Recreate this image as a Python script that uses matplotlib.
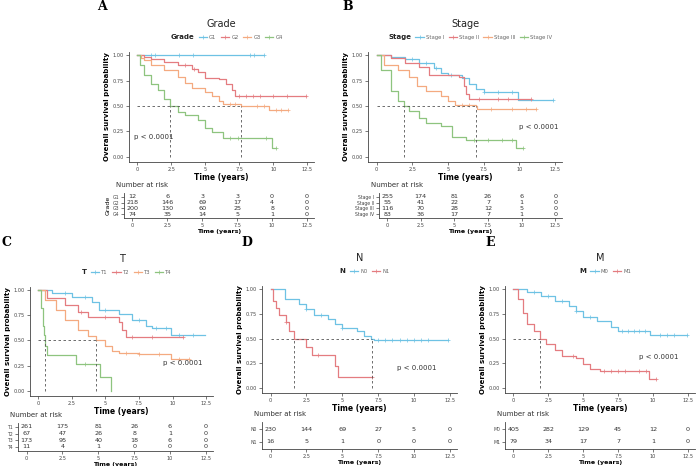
import matplotlib
matplotlib.use("Agg")
import matplotlib.pyplot as plt
import numpy as np
from matplotlib.lines import Line2D

W, H = 700, 466
fig = plt.figure(figsize=(7, 4.66), dpi=100)
BLUE, RED, ORANGE, GREEN = "#6EC2E4", "#E47C80", "#F4AA80", "#8EC47F"
COLS = [BLUE, RED, ORANGE, GREEN]

# ---------------- data ----------------
grade_names = ["G1", "G2", "G3", "G4"]
grade_t = [[0, 9.3],
           [0, 0.5, 1, 2, 3, 4, 4.5, 5, 6, 6.5, 7, 7.2, 12.4],
           [0, 0.3, 0.5, 1, 2, 3, 3.5, 4, 5, 5.5, 6, 6.3, 7.6, 9.7, 11.1],
           [0, 0.2, 0.5, 1, 1.5, 2, 2.4, 3, 3.5, 4.5, 5, 5.5, 6.3, 9.9, 10.2]]
grade_s = [[1, 1],
           [1, 0.98, 0.96, 0.93, 0.9, 0.86, 0.83, 0.77, 0.76, 0.72, 0.66, 0.6, 0.6],
           [1, 0.97, 0.95, 0.9, 0.85, 0.78, 0.73, 0.68, 0.64, 0.6, 0.55, 0.52, 0.5, 0.46, 0.46],
           [1, 0.9, 0.8, 0.72, 0.66, 0.57, 0.5, 0.44, 0.41, 0.36, 0.28, 0.24, 0.19, 0.09, 0.09]]
grade_cens = [[1, 1.3, 3.1, 4.1, 8.3, 8.6, 9.3], [3.5, 4.2, 7.5, 8, 8.5, 9, 10, 11, 12.4],
              [6.8, 7.2, 8.8, 9.3, 10.2, 10.6, 11.1], [6.8, 7.4, 9.5, 10.2]]
grade_risk = [[12, 6, 3, 3, 0, 0], [218, 146, 69, 17, 4, 0], [200, 130, 60, 25, 8, 0], [74, 35, 14, 5, 1, 0]]
grade_med = [2.4, 7.6]

stage_names = ["Stage I", "Stage II", "Stage III", "Stage IV"]
stage_t = [[0, 1, 2, 3, 4, 4.5, 5, 6, 6.5, 7, 7.5, 9.9, 12.4],
           [0, 1, 2, 3, 3.7, 5.8, 6.1, 6.3, 6.5, 10.8],
           [0, 0.5, 1.5, 2.3, 2.8, 3.5, 4.5, 5, 5.5, 7.0, 7.05, 11.2],
           [0, 0.3, 1, 1.5, 1.9, 2.3, 3, 3.5, 4.5, 5.3, 6.3, 9.8, 10.3]]
stage_s = [[1, 0.98, 0.96, 0.92, 0.87, 0.82, 0.8, 0.77, 0.72, 0.67, 0.64, 0.56, 0.56],
           [1, 0.97, 0.92, 0.88, 0.8, 0.78, 0.7, 0.62, 0.57, 0.57],
           [1, 0.9, 0.85, 0.78, 0.7, 0.65, 0.6, 0.55, 0.51, 0.5, 0.47, 0.47],
           [1, 0.85, 0.65, 0.55, 0.5, 0.45, 0.38, 0.33, 0.3, 0.2, 0.17, 0.09, 0.09]]
stage_cens = [[2.5, 3.5, 4.2, 5.2, 7.5, 8.5, 9.5, 12.4], [7.2, 8.5, 9.2, 10.8],
              [6, 6.5, 8, 9.5, 10.5, 11.2], [6.8, 7.8, 8.8, 9.5, 10.3]]
stage_risk = [[255, 174, 81, 26, 6, 0], [55, 41, 22, 7, 1, 0], [116, 70, 28, 12, 5, 0], [83, 36, 17, 7, 1, 0]]
stage_med = [1.9, 7.0]

t_names = ["T1", "T2", "T3", "T4"]
t_t = [[0, 1, 2.5, 4, 4.5, 6, 7, 8, 8.5, 9.9, 12.4],
       [0, 0.7, 2, 3, 3.7, 6, 6.2, 6.5, 10.8],
       [0, 0.5, 1.3, 2, 3, 3.7, 4.3, 5, 5.5, 6, 7.5, 9.9, 11.2],
       [0, 0.2, 0.35, 0.45, 0.55, 0.7, 2.8, 4.6, 5.4]]
t_s = [[1, 0.97, 0.93, 0.88, 0.8, 0.76, 0.7, 0.64, 0.62, 0.55, 0.55],
       [1, 0.92, 0.85, 0.78, 0.73, 0.68, 0.6, 0.53, 0.53],
       [1, 0.9, 0.8, 0.7, 0.6, 0.54, 0.5, 0.45, 0.4, 0.38, 0.37, 0.32, 0.32],
       [1, 0.82, 0.64, 0.55, 0.45, 0.36, 0.27, 0.14, 0.0]]
t_cens = [[2, 3.5, 5, 7.5, 8.8, 9.5, 10.5, 11.5], [3.2, 5, 7, 8.5, 10.8],
          [6.5, 7.5, 9, 10.5, 11.2], [3.5]]
t_risk = [[261, 175, 81, 26, 6, 0], [67, 47, 26, 8, 1, 0], [173, 95, 40, 18, 6, 0], [11, 4, 1, 0, 0, 0]]
t_med = [0.55, 4.3]

n_names = ["N0", "N1"]
n_t = [[0, 1, 2, 2.5, 3, 4, 4.5, 5, 6, 6.5, 7, 7.2, 12.4],
       [0, 0.15, 0.4, 0.6, 1.1, 1.3, 1.6, 2.5, 2.9, 4.5, 4.7, 7.1]]
n_s = [[1, 0.9, 0.85, 0.8, 0.74, 0.7, 0.65, 0.61, 0.58, 0.53, 0.5, 0.49, 0.49],
       [1, 0.88, 0.81, 0.74, 0.67, 0.58, 0.5, 0.41, 0.33, 0.22, 0.11, 0.11]]
n_cens = [[2.5, 3.5, 5, 7.5, 8, 8.5, 9, 9.5, 10, 10.5, 11, 12.4], [1.1, 3.3, 7.1]]
n_risk = [[230, 144, 69, 27, 5, 0], [16, 5, 1, 0, 0, 0]]
n_med = [1.6, 7.1]

m_names = ["M0", "M1"]
m_t = [[0, 1, 2, 3, 4, 4.5, 5, 6, 7, 7.5, 9.8, 12.4],
       [0, 0.3, 0.7, 1, 1.5, 1.9, 2.3, 3, 3.5, 4.5, 5, 5.5, 6.2, 9.7, 10.2]]
m_s = [[1, 0.97, 0.93, 0.88, 0.83, 0.78, 0.72, 0.68, 0.62, 0.58, 0.54, 0.54],
       [1, 0.9, 0.76, 0.65, 0.58, 0.5, 0.44, 0.38, 0.32, 0.3, 0.24, 0.19, 0.17, 0.09, 0.09]]
m_cens = [[1.5, 2.5, 3.5, 4.5, 5.5, 7.8, 8.2, 8.6, 9, 9.4, 10.5, 11, 11.5, 12.4],
          [4.3, 6.5, 7, 7.5, 8, 9, 9.5, 10.2]]
m_risk = [[405, 282, 129, 45, 12, 0], [79, 34, 17, 7, 1, 0]]
m_med = [1.9]

risk_times = [0, 2.5, 5, 7.5, 10, 12.5]


def ax_px(x0, y0, x1, y1):
    return fig.add_axes([x0 / W, 1 - y1 / H, (x1 - x0) / W, (y1 - y0) / H])


def style(ax):
    for s in ["top", "right"]:
        ax.spines[s].set_visible(False)
    for s in ["left", "bottom"]:
        ax.spines[s].set_color("#444444")
        ax.spines[s].set_linewidth(0.6)
    ax.tick_params(length=2, width=0.5, labelsize=3.6, colors="#444444", pad=1.5)
    ax.set_xlim(-0.6, 13.0)
    ax.set_xticks(risk_times)
    ax.set_xticklabels(["0", "2.5", "5", "7.5", "10", "12.5"])


def panel(letter, title, names, ts, ss, cens, risk, meds, pval, box, rbox, lx, ly, ylab=None):
    x0, y0, x1, y1 = box
    n = len(names)
    cols = COLS[:n]
    ax = ax_px(*box)
    style(ax)
    ax.set_ylim(-0.05, 1.03)
    ax.set_yticks([0, 0.25, 0.5, 0.75, 1.0])
    ax.set_yticklabels(["0.00", "0.25", "0.50", "0.75", "1.00"])
    for t, s, c, cn in zip(ts, ss, cols, cens):
        ax.step(t, s, where="post", color=c, lw=0.9)
        idx = np.searchsorted(t, cn, side="right") - 1
        ax.plot(cn, np.array(s)[idx], "+", color=c, ms=2.5, mew=0.5)
    ax.plot([0, max(meds)], [0.5, 0.5], ls=(0, (3, 3)), color="#555555", lw=0.6)
    for m in meds:
        ax.plot([m, m], [0, 0.5], ls=(0, (3, 3)), color="#555555", lw=0.6)
    ax.text(pval[0], pval[1], "p < 0.0001", fontsize=5, color="#333333", ha="left", va="center")
    ax.set_xlabel("Time (years)", fontsize=5.5, fontweight="bold", labelpad=1)
    ax.set_ylabel("Overall survival probability", fontsize=5, fontweight="bold", labelpad=2)
    cx = (x0 + x1) / 2
    fig.text(cx / W, 1 - (y0 - 28) / H, title, fontsize=7, ha="center", va="center", color="#222222")
    # legend with inline bold title
    handles = [Line2D([0], [0], color="none")] + \
              [Line2D([0], [0], color=c, lw=0.9, marker="+", ms=3, mew=0.5) for c in cols]
    leg = fig.legend(handles, [title] + names, loc="center", bbox_to_anchor=(cx / W, 1 - (y0 - 15) / H),
                     ncol=n + 1, frameon=False, fontsize=3.8, handlelength=1.6, columnspacing=0.8,
                     handletextpad=0.4)
    txts = leg.get_texts()
    txts[0].set_fontsize(5)
    txts[0].set_fontweight("bold")
    txts[0].set_color("#222222")
    for tx in txts[1:]:
        tx.set_color("#666666")
    fig.text(lx / W, 1 - ly / H, letter, fontsize=9, fontweight="bold", family="DejaVu Serif",
             ha="left", va="center")
    # risk table
    rx0, ry0, rx1, ry1 = rbox
    rax = ax_px(*rbox)
    style(rax)
    rax.set_ylim(n - 0.4, -0.6)
    rax.set_yticks(range(n))
    rax.set_yticklabels(names, fontsize=3.3)
    for i, row in enumerate(risk):
        for t, v in zip(risk_times, row):
            rax.text(t, i, str(v), fontsize=4.6, ha="center", va="center", color="#333333")
    rax.set_xlabel("Time (years)", fontsize=4.5, fontweight="bold", labelpad=1)
    if ylab:
        rax.set_ylabel(ylab, fontsize=4.5, labelpad=1)
    fig.text((rx0 - 8) / W, 1 - (ry0 - 8) / H, "Number at risk", fontsize=5, color="#333333",
             ha="left", va="center")


panel("A", "Grade", grade_names, grade_t, grade_s, grade_cens, grade_risk, grade_med, (-0.2, 0.2),
      (129, 52, 314, 162), (124, 193, 314, 218), 97, 6, ylab="Grade")
panel("B", "Stage", stage_names, stage_t, stage_s, stage_cens, stage_risk, stage_med, (10.0, 0.29),
      (368, 52, 562, 162), (379, 193, 562, 218), 342, 6)
panel("C", "T", t_names, t_t, t_s, t_cens, t_risk, t_med, (9.3, 0.28),
      (30, 287, 213, 396), (18, 423, 213, 451), 2, 243)
panel("D", "N", n_names, n_t, n_s, n_cens, n_risk, n_med, (8.8, 0.2),
      (262, 286, 457, 393), (262, 422, 457, 449), 241, 243)
panel("E", "M", m_names, m_t, m_s, m_cens, m_risk, m_med, (9.0, 0.31),
      (505, 286, 695, 393), (505, 422, 695, 449), 485, 243)

fig.savefig("out.png", dpi=100)
